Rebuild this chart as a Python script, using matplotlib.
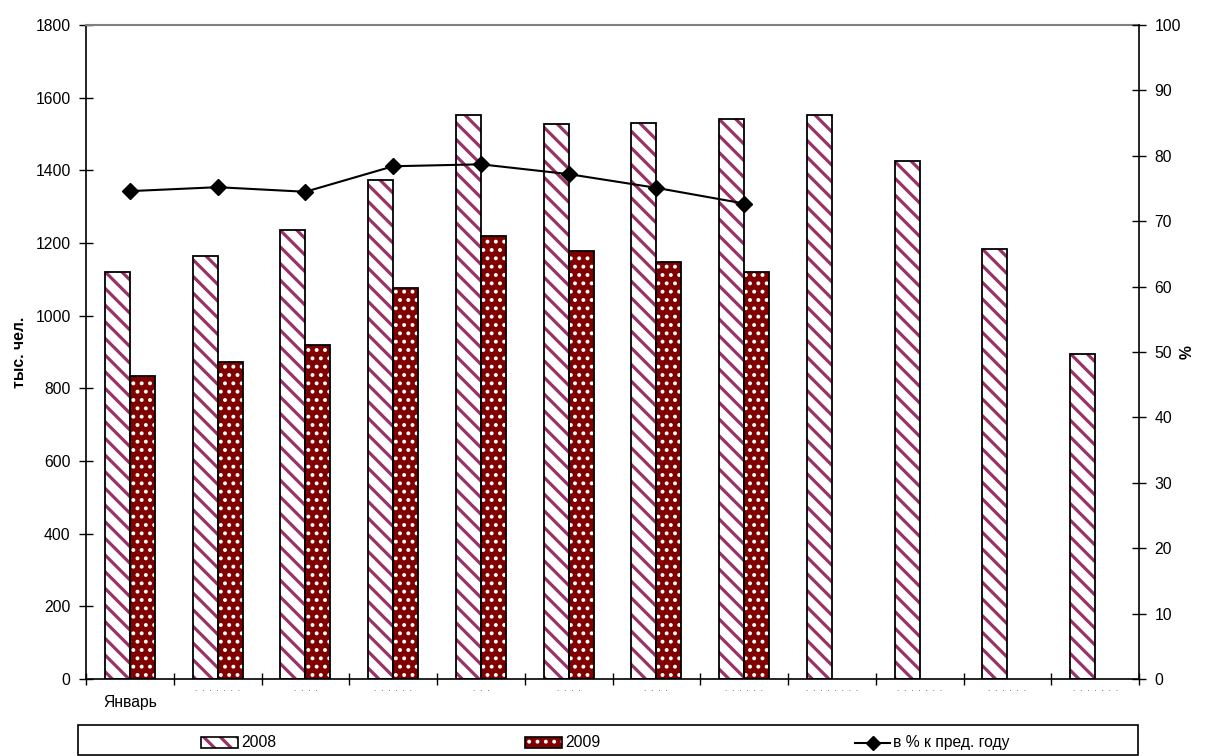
import numpy as np
import matplotlib
matplotlib.use("Agg")
import matplotlib as mpl
import matplotlib.pyplot as plt
from matplotlib.patches import Rectangle
from matplotlib.lines import Line2D

months = ["Январь", "Февраль", "Март", "Апрель", "Май", "Июнь", "Июль",
          "Август", "Сентябрь", "Октябрь", "Ноябрь", "Декабрь"]
v2008 = [1120, 1163, 1235, 1373, 1552, 1527, 1530, 1542, 1552, 1427, 1183, 895]
v2009 = [835, 873, 918, 1077, 1220, 1177, 1147, 1120]
pct = [74.6, 75.2, 74.5, 78.4, 78.7, 77.2, 75.1, 72.7]

plt.rcParams['font.family'] = ['Liberation Sans', 'DejaVu Sans']
FS = 11.3

W, H = 1205, 756
fig = plt.figure(figsize=(W / 100, H / 100), dpi=100)

def fx(px):
    return px / W

def fy(py):
    return 1 - py / H

L, R, T, B = 86, 1139, 25, 679
ax = fig.add_axes([fx(L), fy(B), fx(R) - fx(L), fy(T) - fy(B)])

PLUM = '#993366'
MAROON = '#800000'
w = 0.285
x = np.arange(len(months))
x9 = np.arange(len(v2009))

mpl.rcParams['hatch.linewidth'] = 2.3
ax.bar(x - w / 2, v2008, w, facecolor='white', edgecolor=PLUM, hatch='\\\\', linewidth=0, zorder=2)
mpl.rcParams['hatch.linewidth'] = 1.6
ax.bar(x9 + w / 2, v2009, w, facecolor=MAROON, edgecolor='white', hatch='..', linewidth=0, zorder=2)
ax.bar(x - w / 2, v2008, w, fill=False, edgecolor='black', linewidth=1.3, zorder=3)
ax.bar(x9 + w / 2, v2009, w, fill=False, edgecolor='black', linewidth=1.3, zorder=3)

ax.set_xlim(-0.5, len(months) - 0.5)
ax.set_ylim(0, 1800)
ax.set_yticks(np.arange(0, 1801, 200))
ax.set_xticks(np.arange(len(months) + 1) - 0.5)
ax.set_xticklabels([])
ax.tick_params(axis='x', direction='inout', length=8, width=1)
ax.tick_params(axis='y', direction='inout', length=10, width=1, labelsize=FS, pad=6)
for s in ['left', 'bottom']:
    ax.spines[s].set_color('black')
    ax.spines[s].set_linewidth(1.2)
ax.spines['top'].set_color('#808080')
ax.spines['top'].set_linewidth(1.5)
ax.spines['right'].set_visible(False)
ax.set_ylabel('тыс. чел.', fontsize=FS, fontweight='bold')
ax.yaxis.set_label_coords(-0.056, 0.5)

# x tick labels
for i, m in enumerate(months):
    if i == 0:
        ax.text(i, -0.024, m, transform=ax.get_xaxis_transform(), ha='center', va='top', fontsize=FS)
    else:
        ax.text(i, -0.010, '  '.join('.' * len(m)), transform=ax.get_xaxis_transform(),
                ha='center', va='top', fontsize=6, color='#444444')

ax2 = ax.twinx()
ax2.set_ylim(0, 100)
ax2.set_yticks(np.arange(0, 101, 10))
ax2.tick_params(axis='y', direction='inout', length=10, width=1, labelsize=FS, pad=6)
for s in ['left', 'top', 'bottom']:
    ax2.spines[s].set_visible(False)
ax2.spines['right'].set_color('black')
ax2.spines['right'].set_linewidth(1.2)
ax2.plot(x9, pct, color='black', linewidth=1.5, marker='D', markersize=8, zorder=4)
ax2.set_ylabel('%', fontsize=FS, fontweight='bold', rotation=90)
ax2.yaxis.set_label_coords(1.039, 0.5)

# legend box
fig.patches.append(Rectangle((fx(78), fy(755)), fx(1138) - fx(78), fy(725) - fy(755),
                             transform=fig.transFigure, fill=False, edgecolor='black',
                             linewidth=1.2, figure=fig))
mpl.rcParams['hatch.linewidth'] = 2.3
fig.patches.append(Rectangle((fx(201), fy(748)), fx(238) - fx(201), fy(737) - fy(748),
                             transform=fig.transFigure, facecolor='white', edgecolor=PLUM,
                             hatch='\\\\', linewidth=0, figure=fig))
fig.patches.append(Rectangle((fx(201), fy(748)), fx(238) - fx(201), fy(737) - fy(748),
                             transform=fig.transFigure, fill=False, edgecolor='black',
                             linewidth=1.2, figure=fig))
mpl.rcParams['hatch.linewidth'] = 1.6
fig.patches.append(Rectangle((fx(525), fy(748)), fx(562) - fx(525), fy(737) - fy(748),
                             transform=fig.transFigure, facecolor=MAROON, edgecolor='white',
                             hatch='..', linewidth=0, figure=fig))
fig.patches.append(Rectangle((fx(525), fy(748)), fx(562) - fx(525), fy(737) - fy(748),
                             transform=fig.transFigure, fill=False, edgecolor='black',
                             linewidth=1.2, figure=fig))
fig.text(fx(241), fy(742.5), '2008', fontsize=FS, va='center', ha='left')
fig.text(fx(565), fy(742.5), '2009', fontsize=FS, va='center', ha='left')
fig.lines.append(Line2D([fx(855), fx(890)], [fy(742.5), fy(742.5)], transform=fig.transFigure,
                        color='black', linewidth=1.5, figure=fig))
fig.lines.append(Line2D([fx(872.5)], [fy(742.5)], transform=fig.transFigure, color='black',
                        marker='D', markersize=7, linestyle='none', figure=fig))
fig.text(fx(893), fy(742.5), 'в % к пред. году', fontsize=FS, va='center', ha='left')

fig.savefig('out.png', dpi=100)
